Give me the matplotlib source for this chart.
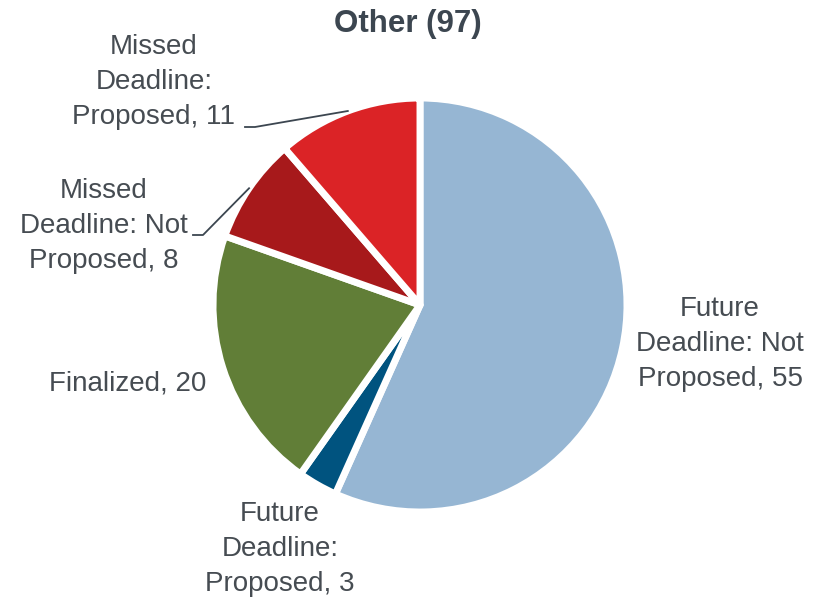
import numpy as np
import matplotlib
matplotlib.use("Agg")
import matplotlib.pyplot as plt

# data
labels = ["Future\nDeadline: Not\nProposed, 55",
          "Future\nDeadline:\nProposed, 3",
          "Finalized, 20",
          "Missed\nDeadline: Not\nProposed, 8",
          "Missed\nDeadline:\nProposed, 11"]
values = [55, 3, 20, 8, 11]
colors = ["#96b6d3", "#00537f", "#617e37", "#a7191b", "#db2326"]
title = "Other (97)"

W, H = 819, 600
fig = plt.figure(figsize=(W / 100, H / 100), dpi=100)
plt.rcParams["font.family"] = ["Liberation Sans", "DejaVu Sans"]

cx, cy, r = 420, 305, 207
ax = fig.add_axes([(cx - r) / W, (H - cy - r) / H, 2 * r / W, 2 * r / H])
wedges, _ = ax.pie(values, colors=colors, startangle=90, counterclock=False,
                   radius=1.0, wedgeprops=dict(edgecolor="white", linewidth=5,
                                               joinstyle="round"))
ax.set_xlim(-1, 1)
ax.set_ylim(-1, 1)

def px(x, y):
    return (x / W, 1 - y / H)

txt_col = "#464c52"
fs = 20

# label placements (pixel centers of text blocks)
label_pos = [(720, 344), (280, 549), (128, 383), (104, 226), (154, 82)]
for lab, (x, y) in zip(labels, label_pos):
    fig.text(*px(x, y), lab, ha="center", va="center", fontsize=fs,
             color=txt_col, linespacing=1.45)

# leader lines for the two small top-left slices
total = sum(values)
angles = 90 - np.cumsum([0] + values) / total * 360
for i, (tx, ty) in [(3, (193, 235)), (4, (245, 127))]:
    mid = np.deg2rad((angles[i] + angles[i + 1]) / 2)
    ex, ey = np.cos(mid), np.sin(mid)
    fx, fy = cx + ex * r, cy - ey * r
    fig.add_artist(plt.Line2D([tx / W, (tx + 10) / W, fx / W],
                              [1 - ty / H, 1 - ty / H, 1 - fy / H],
                              transform=fig.transFigure, color="#3c4650", lw=1.3))

fig.text(*px(408, 24), title, ha="center", va="center", fontsize=22.5,
         color="#3c4650", fontweight="bold")

fig.savefig("out.png", dpi=100)
